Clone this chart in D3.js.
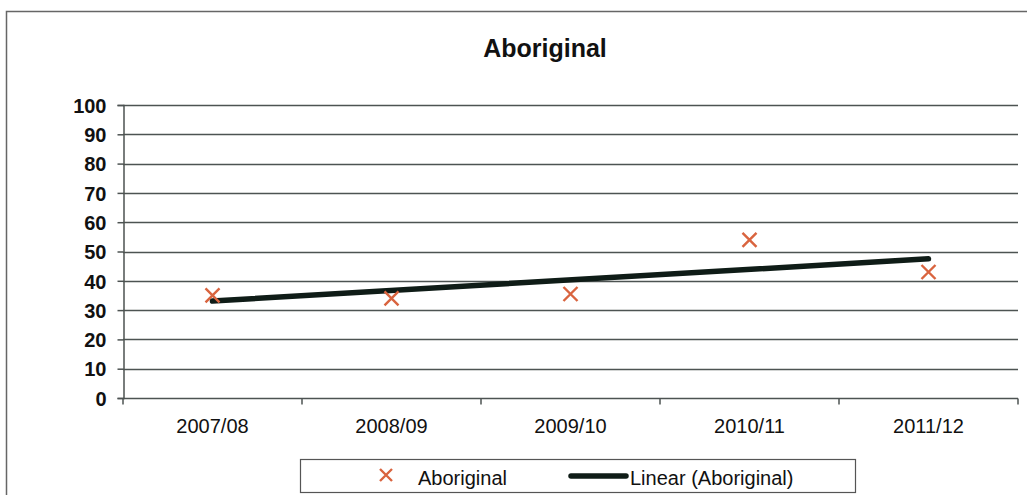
<!DOCTYPE html>
<html>
<head>
<meta charset="utf-8">
<script src="https://cdn.jsdelivr.net/npm/d3@7"></script>
<style>
  html, body { margin: 0; padding: 0; background: #fff; }
  svg { display: block; font-family: "Liberation Sans", Arial, sans-serif; }
</style>
</head>
<body>
<svg id="chart" width="1027" height="495"></svg>
<script>
// Rate by year
const years = ["2007/08", "2008/09", "2009/10", "2010/11", "2011/12"];
const aboriginal = [35, 34, 35.5, 54, 43];
const yTicks = [0, 10, 20, 30, 40, 50, 60, 70, 80, 90, 100];

const svg = d3.select("#chart");
const W = 1027, H = 495;
const m = { left: 123, right: 1018, top: 105, bottom: 398 };

// chart frame
svg.append("rect").attr("x", 6.5).attr("y", 11.5).attr("width", W + 10).attr("height", H)
  .attr("fill", "#fff").attr("stroke", "#666").attr("stroke-width", 1.5);

const x = d3.scaleBand().domain(years).range([m.left, m.right]);
const y = d3.scaleLinear().domain([0, 100]).range([m.bottom, m.top]);

// gridlines
svg.append("g").selectAll("line").data(yTicks.filter(d => d > 0)).join("line")
  .attr("x1", m.left).attr("x2", m.right)
  .attr("y1", d => Math.round(y(d)) + 0.5).attr("y2", d => Math.round(y(d)) + 0.5)
  .attr("stroke", "#4d5352").attr("stroke-width", 1.6);

// y axis
const yAxis = d3.axisLeft(y).tickValues(yTicks).tickSize(6).tickPadding(11);
const gy = svg.append("g").attr("transform", `translate(${m.left + 0.5},0)`).call(yAxis);
gy.select(".domain").attr("stroke", "#4d5352").attr("stroke-width", 1.5);
gy.selectAll(".tick line").attr("stroke", "#4d5352").attr("stroke-width", 1.5);
gy.selectAll(".tick text").attr("fill", "#111").style("font-size", "20px")
  .style("font-weight", "600").attr("dy", "0.36em");

// x axis with ticks between categories
const gx = svg.append("g").attr("transform", `translate(0,${Math.round(y(0)) + 0.5})`);
gx.append("line").attr("x1", m.left).attr("x2", m.right).attr("stroke", "#4d5352").attr("stroke-width", 1.6);
const bounds = years.map(d => x(d)).concat([m.right]);
gx.selectAll("line.tk").data(bounds).join("line").attr("class", "tk")
  .attr("x1", d => d).attr("x2", d => d).attr("y1", 0).attr("y2", 6)
  .attr("stroke", "#4d5352").attr("stroke-width", 1.5);
gx.selectAll("text").data(years).join("text")
  .attr("x", d => x(d) + x.bandwidth() / 2).attr("y", 34.5)
  .attr("text-anchor", "middle").attr("fill", "#111")
  .style("font-size", "20px").text(d => d);

// least-squares trend line through the points
const xs = years.map((_, i) => i + 1);
const mx = d3.mean(xs), my = d3.mean(aboriginal);
const slope = d3.sum(xs, (v, i) => (v - mx) * (aboriginal[i] - my)) / d3.sum(xs, v => (v - mx) ** 2);
const icpt = my - slope * mx;
const cx = d => x(d) + x.bandwidth() / 2;
svg.append("line")
  .attr("x1", cx(years[0])).attr("y1", y(icpt + slope * 1))
  .attr("x2", cx(years[4])).attr("y2", y(icpt + slope * 5))
  .attr("stroke", "#0f1c17").attr("stroke-width", 5.5).attr("stroke-linecap", "round");

// markers
const mk = 7;
const pts = svg.append("g").selectAll("g").data(aboriginal).join("g")
  .attr("transform", (d, i) => `translate(${cx(years[i])},${y(d)})`);
pts.append("path").attr("d", `M${-mk},${-mk}L${mk},${mk}M${-mk},${mk}L${mk},${-mk}`)
  .attr("stroke", "#d9643f").attr("stroke-width", 2.4).attr("fill", "none");

// title
svg.append("text").attr("x", 545).attr("y", 57).attr("text-anchor", "middle")
  .style("font-size", "25px").style("font-weight", "bold").attr("fill", "#111").text("Aboriginal");

// legend
const lg = svg.append("g");
lg.append("rect").attr("x", 300.5).attr("y", 459.5).attr("width", 555).attr("height", 33)
  .attr("fill", "#fff").attr("stroke", "#555").attr("stroke-width", 1.2);
lg.append("path").attr("d", `M${386 - 6},${475 - 6}L${386 + 6},${475 + 6}M${386 - 6},${475 + 6}L${386 + 6},${475 - 6}`)
  .attr("stroke", "#d9643f").attr("stroke-width", 2.4);
lg.append("text").attr("x", 418).attr("y", 485).style("font-size", "20px").attr("fill", "#111").text("Aboriginal");
lg.append("line").attr("x1", 571).attr("x2", 626).attr("y1", 476).attr("y2", 476)
  .attr("stroke", "#0f1c17").attr("stroke-width", 5.5).attr("stroke-linecap", "round");
lg.append("text").attr("x", 630).attr("y", 485).style("font-size", "20px").attr("fill", "#111").text("Linear (Aboriginal)");
</script>
</body>
</html>
